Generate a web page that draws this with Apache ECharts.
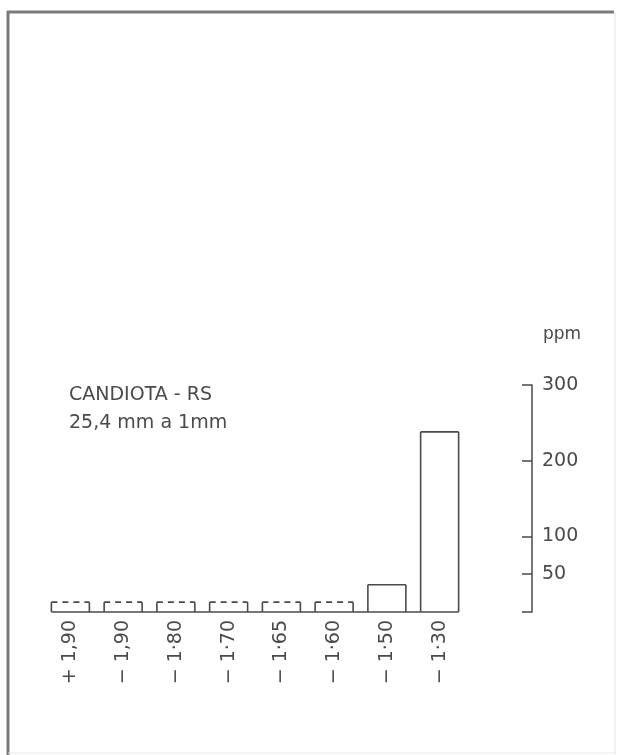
<!DOCTYPE html>
<html>
<head>
<meta charset="utf-8">
<script src="https://cdn.jsdelivr.net/npm/echarts@6/dist/echarts.min.js"></script>
<style>html,body{margin:0;padding:0;background:#fff}#c{width:618px;height:755px}</style>
</head>
<body>
<div id="c"></div>
<script>
var categories = ['+ 1,90', '− 1,90', '− 1·80', '− 1·70', '− 1·65', '− 1·60', '− 1·50', '− 1·30'];
var values = [13, 13, 13, 13, 13, 13, 36, 238];
var belowLimit = [true, true, true, true, true, true, false, false];
var yTicks = [0, 50, 100, 200, 300];
var yLabels = [50, 100, 200, 300];
var titleLine1 = 'CANDIOTA - RS';
var titleLine2 = '25,4 mm a 1mm';
var unitName = 'ppm';

var ink = '#4a4a4a';
var font = 'DejaVu Sans';

var chart = echarts.init(document.getElementById('c'), null, {renderer: 'canvas'});
var lastIndex = categories.length - 1;

var option = {
  backgroundColor: '#fff',
  animation: false,
  title: [
    {text: titleLine1, left: 64, top: 381, textStyle: {fontFamily: font, fontSize: 19, fontWeight: 'normal', color: ink}},
    {text: titleLine2, left: 64, top: 409, textStyle: {fontFamily: font, fontSize: 19, fontWeight: 'normal', color: ink}}
  ],
  graphic: [
    {type: 'line', shape: {x1: 7, y1: 12, x2: 614, y2: 12}, style: {stroke: '#7a7a7a', lineWidth: 3}},
    {type: 'line', shape: {x1: 8, y1: 11, x2: 8, y2: 755}, style: {stroke: '#7a7a7a', lineWidth: 3}},
    {type: 'line', shape: {x1: 615, y1: 12, x2: 615, y2: 755}, style: {stroke: '#e4e4e4', lineWidth: 1}},
    {type: 'line', shape: {x1: 8, y1: 753, x2: 615, y2: 753}, style: {stroke: '#e8e8e8', lineWidth: 1}}
  ],
  grid: {left: 44, right: 152, top: 385, bottom: 143},
  xAxis: {
    type: 'category',
    data: categories,
    boundaryGap: true,
    axisLine: {show: false},
    axisTick: {show: false},
    axisLabel: {rotate: 90, margin: 8, fontFamily: font, fontSize: 19, color: ink}
  },
  yAxis: {
    type: 'value',
    position: 'right',
    offset: 66,
    min: 0,
    max: 300,
    name: unitName,
    nameLocation: 'end',
    nameGap: 42,
    nameTextStyle: {fontFamily: font, fontSize: 17, color: ink, align: 'left', padding: [0, 0, 0, 11]},
    splitLine: {show: false},
    axisLine: {show: true, lineStyle: {color: ink, width: 1.5}},
    axisTick: {show: true, inside: true, length: 10, customValues: yTicks, lineStyle: {color: ink, width: 1.5}},
    axisLabel: {show: true, margin: 10, customValues: yLabels, fontFamily: font, fontSize: 19, color: ink}
  },
  series: [{
    type: 'custom',
    data: values.map(function (v, i) { return [i, v, belowLimit[i] ? 1 : 0]; }),
    encode: {x: 0, y: 1},
    renderItem: function (params, api) {
      var i = api.value(0);
      var v = api.value(1);
      var dashed = api.value(2) === 1;
      var base = api.coord([i, 0]);
      var top = api.coord([i, v]);
      var band = api.size([1, 0])[0];
      var w = band * 0.72;
      var x0 = base[0] - w / 2, x1 = base[0] + w / 2;
      var sty = {stroke: ink, lineWidth: 1.6, fill: null};
      var baseEnd = (i === lastIndex) ? x1 : x0 + band;
      return {
        type: 'group',
        children: [
          {type: 'line', shape: {x1: x0, y1: base[1], x2: baseEnd, y2: base[1]}, style: sty},
          {type: 'line', shape: {x1: x0, y1: base[1], x2: x0, y2: top[1]}, style: sty},
          {type: 'line', shape: {x1: x1, y1: base[1], x2: x1, y2: top[1]}, style: sty},
          {type: 'line', shape: {x1: x0, y1: top[1], x2: x1, y2: top[1]},
            style: {stroke: ink, lineWidth: 1.6, lineDash: dashed ? [6, 5] : null}}
        ]
      };
    }
  }]
};
chart.setOption(option);
</script>
</body>
</html>
